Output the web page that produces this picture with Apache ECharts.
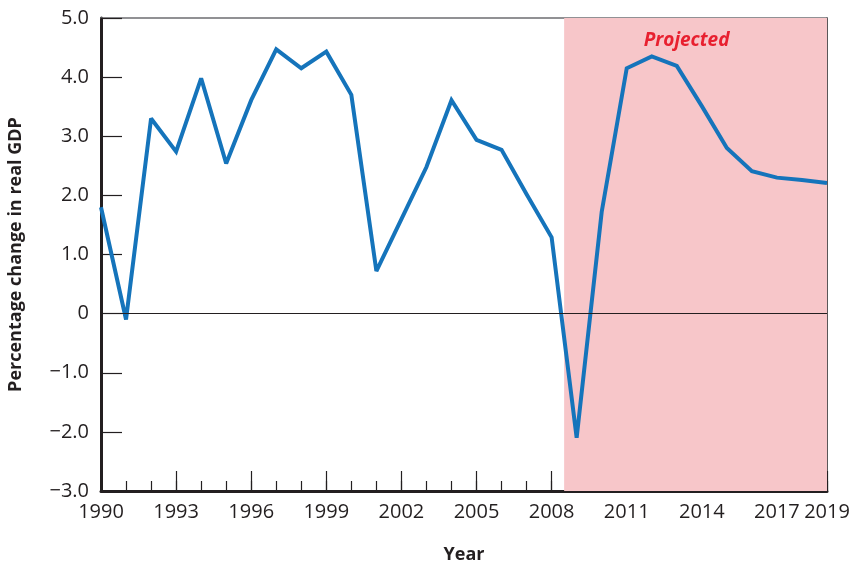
<!DOCTYPE html>
<html>
<head>
<meta charset="utf-8">
<script src="https://cdn.jsdelivr.net/npm/echarts@6/dist/echarts.min.js"></script>
<style>
  html, body { margin: 0; padding: 0; background: #fff; }
  #chart { width: 859px; height: 563px; }
</style>
</head>
<body>
<div id="chart"></div>
<script>
const years = [1990, 1991, 1992, 1993, 1994, 1995, 1996, 1997, 1998, 1999,
  2000, 2001, 2002, 2003, 2004, 2005, 2006, 2007, 2008, 2009,
  2010, 2011, 2012, 2013, 2014, 2015, 2016, 2017, 2018, 2019];
const gdpChange = [1.8, -0.1, 3.3, 2.74, 3.98, 2.54, 3.61, 4.47, 4.15, 4.43,
  3.7, 0.72, 1.6, 2.48, 3.61, 2.94, 2.77, 2.02, 1.29, -2.1,
  1.72, 4.15, 4.35, 4.19, 3.51, 2.8, 2.41, 2.3, 2.26, 2.21];
const projectedFrom = 2008.5;
const projectedTo = 2019;
const yearLabels = [1990, 1993, 1996, 1999, 2002, 2005, 2008, 2011, 2014, 2017, 2019];

const font = "'Open Sans', 'Noto Sans', sans-serif";
const ink = "#231f20";

function fmtY(v) {
  if (v === 0) return "0";
  return (v < 0 ? "\u2212" : "") + Math.abs(v).toFixed(1);
}

const chart = echarts.init(document.getElementById("chart"));

chart.setOption({
  animation: false,
  grid: { left: 101, right: 32, top: 18, bottom: 72, outerBoundsMode: "none" },
  xAxis: [
    {
      type: "value",
      min: 1990,
      max: 2019,
      interval: 1,
      position: "bottom",
      axisLine: { onZero: false, lineStyle: { color: ink, width: 3 } },
      axisTick: { inside: true, length: 10, lineStyle: { color: ink, width: 1.2 } },
      axisLabel: {
        margin: 11,
        fontFamily: font,
        fontSize: 20,
        color: ink,
        formatter: (v) => (yearLabels.includes(v) ? String(v) : ""),
      },
      splitLine: { show: false },
      name: "Year",
      nameLocation: "middle",
      nameGap: 55,
      nameTextStyle: { fontFamily: font, fontSize: 18, fontWeight: "bold", color: ink },
    },
    {
      type: "value",
      min: 1990,
      max: 2019,
      interval: 3,
      position: "bottom",
      axisLine: { show: false, onZero: false },
      axisTick: { inside: true, length: 20, lineStyle: { color: ink, width: 1.2 } },
      axisLabel: { show: false },
      splitLine: { show: false },
    },
    {
      type: "value",
      min: 1990,
      max: 2019,
      position: "top",
      axisLine: { onZero: false, lineStyle: { color: "#6d6e71", width: 1.5 } },
      axisTick: { show: false },
      axisLabel: { show: false },
      splitLine: { show: false },
    },
  ],
  yAxis: [
    {
      type: "value",
      min: -3,
      max: 5,
      interval: 1,
      axisLine: { show: true, onZero: false, lineStyle: { color: ink, width: 3 } },
      axisTick: { inside: true, length: 21, lineStyle: { color: ink, width: 1.2 } },
      axisLabel: { margin: 12, fontFamily: font, fontSize: 20, color: ink, formatter: fmtY },
      splitLine: { show: false },
      name: "Percentage change in real GDP",
      nameLocation: "middle",
      nameGap: 76,
      nameTextStyle: { fontFamily: font, fontSize: 18, fontWeight: "bold", color: ink },
    },
    {
      type: "value",
      min: -3,
      max: 5,
      position: "right",
      axisLine: { show: true, onZero: false, lineStyle: { color: ink, width: 1.5 } },
      axisTick: { show: false },
      axisLabel: { show: false },
      splitLine: { show: false },
    },
  ],
  series: [
    {
      type: "line",
      data: [],
      z: 1,
      silent: true,
      markArea: {
        silent: true,
        itemStyle: { color: "#f7c6c9" },
        label: {
          show: true,
          position: "insideTop",
          offset: [-9, 8],
          formatter: "Projected",
          fontFamily: font,
          fontSize: 19,
          fontWeight: "bold",
          fontStyle: "italic",
          color: "#e8202f",
        },
        data: [[{ xAxis: projectedFrom, yAxis: 5 }, { xAxis: projectedTo, yAxis: -3 }]],
      },
      markLine: {
        silent: true,
        symbol: "none",
        label: { show: false },
        lineStyle: { color: ink, width: 1.2, type: "solid" },
        data: [{ yAxis: 0 }],
      },
    },
    {
      type: "line",
      z: 3,
      data: years.map((y, i) => [y, gdpChange[i]]),
      showSymbol: false,
      lineStyle: { color: "#1574bb", width: 4, join: "miter", miterLimit: 2.5 },
    },
  ],
});
</script>
</body>
</html>
